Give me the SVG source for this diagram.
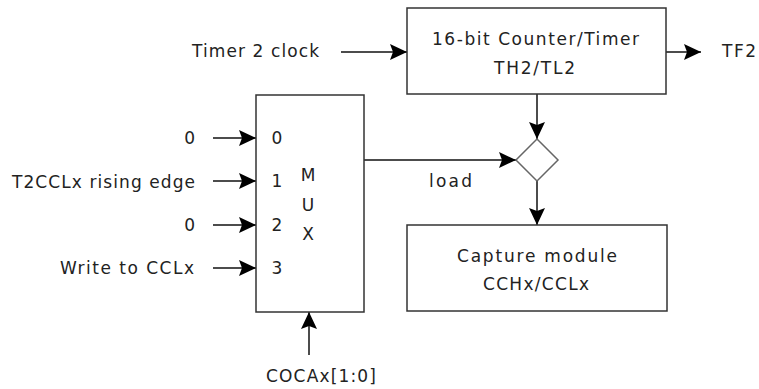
<svg xmlns="http://www.w3.org/2000/svg" width="759" height="389" viewBox="0 0 759 389">
<defs>
<marker id="ah" viewBox="0 0 17 16" refX="17" refY="8" markerWidth="17" markerHeight="16" markerUnits="userSpaceOnUse" orient="auto">
<path d="M0,0 L17,8 L0,16 L3,8 Z" fill="#000"/>
</marker>
<style>
.box{fill:#fff;stroke:#333;stroke-width:1.5}
.dia{fill:#fff;stroke:#666;stroke-width:1.5}
.ln{fill:none;stroke:#111;stroke-width:1.5;marker-end:url(#ah)}
text{font-family:"DejaVu Sans","Open Sans",sans-serif;font-size:17px;fill:#222}
.m{text-anchor:middle}
.e{text-anchor:end}
</style>
</defs>
<rect width="759" height="389" fill="#fff"/>
<g id="connectors">
<line class="ln" x1="341" y1="52" x2="407" y2="52"/>
<line class="ln" x1="666" y1="52" x2="701" y2="52"/>
<line class="ln" x1="213" y1="138" x2="256" y2="138"/>
<line class="ln" x1="213" y1="181" x2="256" y2="181"/>
<line class="ln" x1="213" y1="225" x2="256" y2="225"/>
<line class="ln" x1="213" y1="268" x2="256" y2="268"/>
<line class="ln" x1="364" y1="160" x2="516" y2="160"/>
<line class="ln" x1="537" y1="94" x2="537" y2="139"/>
<line class="ln" x1="537" y1="181" x2="537" y2="225"/>
<line class="ln" x1="309" y1="355" x2="309" y2="312"/>
<text x="429" y="187" textLength="43" lengthAdjust="spacing">load</text>
</g>
<g id="counter">
<rect class="box" x="407" y="8" width="259" height="86"/>
<text x="432" y="45" textLength="207" lengthAdjust="spacing">16-bit Counter/Timer</text>
<text x="494" y="74" textLength="81" lengthAdjust="spacing">TH2/TL2</text>
</g>
<g id="clock">
<text x="192" y="57" textLength="127" lengthAdjust="spacing">Timer 2 clock</text>
</g>
<g id="tf2">
<text x="722" y="57" textLength="34" lengthAdjust="spacing">TF2</text>
</g>
<g id="mux">
<rect class="box" x="256" y="95" width="108" height="217"/>
<text class="m" x="277" y="144">0</text>
<text class="m" x="277" y="187">1</text>
<text class="m" x="277" y="231">2</text>
<text class="m" x="277" y="274">3</text>
<text class="m" x="308" y="181">M</text>
<text class="m" x="308" y="211">U</text>
<text class="m" x="308" y="240">X</text>
</g>
<g id="in0"><text class="e" x="195" y="144">0</text></g>
<g id="in1"><text x="12" y="188" textLength="183" lengthAdjust="spacing">T2CCLx rising edge</text></g>
<g id="in2"><text class="e" x="195" y="231">0</text></g>
<g id="in3"><text x="60" y="274" textLength="134" lengthAdjust="spacing">Write to CCLx</text></g>
<g id="sel"><text x="266" y="382" textLength="110" lengthAdjust="spacing">COCAx[1:0]</text></g>
<g id="gate">
<polygon class="dia" points="537,139 558,160 537,181 516,160"/>
</g>
<g id="capture">
<rect class="box" x="407" y="225" width="260" height="86"/>
<text x="457" y="262" textLength="160" lengthAdjust="spacing">Capture module</text>
<text x="483" y="290" textLength="106" lengthAdjust="spacing">CCHx/CCLx</text>
</g>
</svg>
